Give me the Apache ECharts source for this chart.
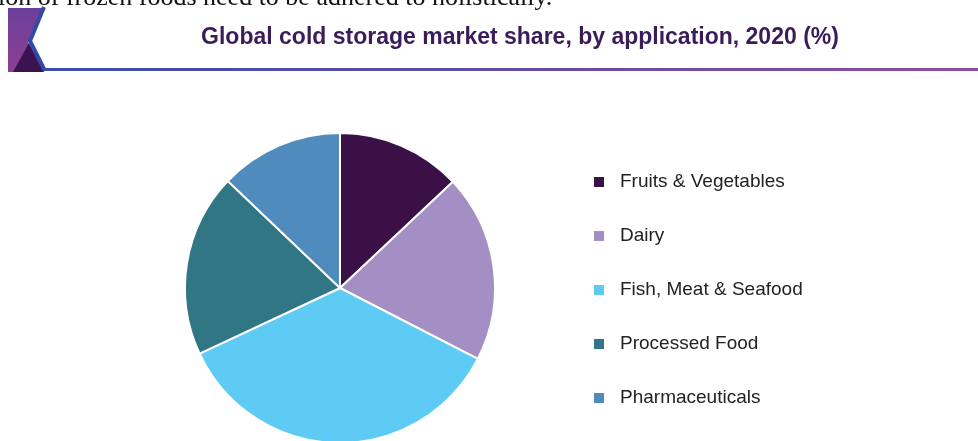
<!DOCTYPE html>
<html>
<head>
<meta charset="utf-8">
<script src="https://cdn.jsdelivr.net/npm/echarts@6/dist/echarts.min.js"></script>
<style>
  html, body { margin: 0; padding: 0; background: #fff; }
  #chart { width: 978px; height: 441px; }
</style>
</head>
<body>
<div id="chart"></div>
<script>
// application segments, share in %
var categories = ['Fruits & Vegetables', 'Dairy', 'Fish, Meat & Seafood', 'Processed Food', 'Pharmaceuticals'];
var shares = [13.0, 19.6, 35.5, 19.1, 12.9];
var colors = ['#3a1047', '#a48fc4', '#5ecbf5', '#307684', '#4f8bbd'];

var titleText = 'Global cold storage market share, by application, 2020 (%)';
var introText = 'ion of frozen foods need to be adhered to holistically.';

var pieData = [];
for (var i = 0; i < categories.length; i++) {
    pieData.push({ name: categories[i], value: shares[i], itemStyle: { color: colors[i] } });
}

var myChart = echarts.init(document.getElementById('chart'));

var option = {
    animation: false,
    backgroundColor: '#fff',
    graphic: [
        // cut-off line of text above the figure
        {
            type: 'text', left: -2, top: -15,
            style: { text: introText, font: '26px "Liberation Serif"', fill: '#111' }
        },
        // logo
        {
            type: 'polygon',
            shape: { points: [[8, 8], [42, 8], [28, 42], [42, 72], [8, 72]] },
            style: {
                fill: new echarts.graphic.LinearGradient(0, 0, 0, 1, [
                    { offset: 0, color: '#6b3f9c' },
                    { offset: 1, color: '#8d3f92' }
                ])
            }
        },
        {
            type: 'polygon',
            shape: { points: [[13, 72], [29, 43], [44, 72]] },
            style: { fill: '#3a1450' }
        },
        {
            type: 'polyline',
            shape: { points: [[44, 7], [30, 41], [45, 71]] },
            style: { stroke: '#3449a6', lineWidth: 4, fill: null }
        },
        // header underline
        {
            type: 'rect',
            shape: { x: 44, y: 68, width: 934, height: 3 },
            style: {
                fill: new echarts.graphic.LinearGradient(0, 0, 1, 0, [
                    { offset: 0, color: '#3b4ea6' },
                    { offset: 1, color: '#8c4c9f' }
                ])
            }
        },
        {
            type: 'text', x: 520, y: 38,
            style: {
                text: titleText, fill: '#3a1c58',
                font: 'bold 23px "Liberation Sans", Arial, sans-serif',
                align: 'center', verticalAlign: 'middle'
            }
        }
    ],
    legend: {
        orient: 'vertical',
        left: 592,
        top: 172,
        padding: 0,
        icon: 'rect',
        itemWidth: 12,
        itemHeight: 12,
        itemGap: 34,
        selectedMode: false,
        data: categories,
        textStyle: {
            fontFamily: '"Liberation Sans", Arial, sans-serif',
            fontSize: 19,
            color: '#222',
            lineHeight: 20,
            padding: [0, 0, 0, 10]
        }
    },
    series: [{
        type: 'pie',
        center: [340, 288],
        radius: 155,
        startAngle: 90,
        clockwise: true,
        label: { show: false },
        labelLine: { show: false },
        emphasis: { disabled: true },
        itemStyle: { borderColor: '#fff', borderWidth: 2 },
        data: pieData
    }]
};

myChart.setOption(option);
</script>
</body>
</html>
